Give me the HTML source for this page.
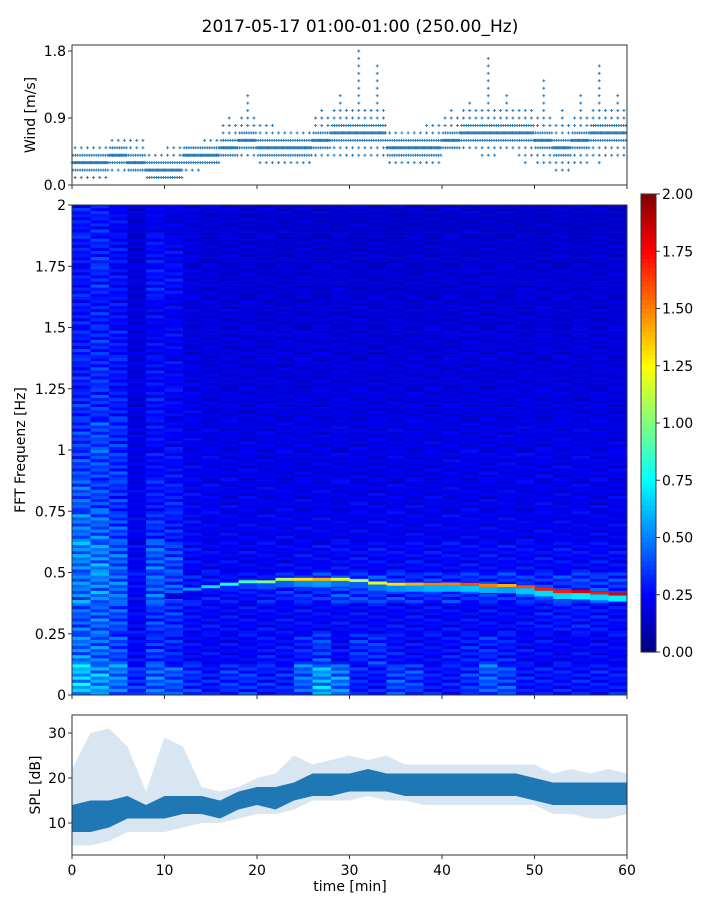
<!DOCTYPE html>
<html><head><meta charset="utf-8"><style>
html,body{margin:0;padding:0;background:#fff;}
svg{display:block;font-family:"DejaVu Sans","Liberation Sans",sans-serif;}
</style></head><body>
<svg id="fig" width="720" height="900" viewBox="0 0 720 900" xmlns="http://www.w3.org/2000/svg">
<text x="360" y="32" font-size="17" text-anchor="middle">2017-05-17 01:00-01:00 (250.00_Hz)</text>
<g id="wind"></g>
<g id="spec"></g>
<g id="cbar"></g>
<g id="spl"></g>
</svg>
<script>
// ---------- data ----------
const windMinutes = [0,2,4,6,8,10,12,14,16,18,20,22,24,26,28,30,32,34,36,38,40,42,44,46,48,50,52,54,56,58];
const windLo  = [0.1,0.1,0.2,0.2,0.1,0.1,0.2,0.3,0.4,0.4,0.3,0.3,0.3,0.4,0.4,0.4,0.4,0.3,0.3,0.3,0.5,0.5,0.4,0.5,0.3,0.3,0.2,0.3,0.3,0.4];
const windMid = [0.3,0.3,0.4,0.3,0.2,0.2,0.4,0.4,0.5,0.6,0.5,0.5,0.5,0.6,0.7,0.7,0.7,0.5,0.5,0.5,0.6,0.7,0.7,0.7,0.7,0.6,0.5,0.6,0.7,0.7];
const windHi  = [0.5,0.5,0.6,0.6,0.4,0.5,0.5,0.6,0.9,1.2,0.8,0.7,0.7,1.0,1.2,1.8,1.6,0.7,0.7,0.8,1.0,1.1,1.7,1.2,1.0,1.4,1.0,1.2,1.6,1.2];

const specTimes = [0,2,4,6,8,10,12,14,16,18,20,22,24,26,28,30,32,34,36,38,40,42,44,46,48,50,52,54,56,58];
const specFreqs = [1.875,1.75,1.625,1.5,1.375,1.25,1.125,1.0,0.875,0.75,0.625,0.5,0.375,0.25,0.125,0.0];
const specVals = [
[28,30,24,17,22,20,18,17,17,16,16,16,16,15,15,16,15,15,15,15,15,16,15,15,15,15,15,15,15,15],
[28,32,26,17,26,24,18,17,17,17,16,16,16,16,16,16,16,16,16,16,16,16,16,16,16,16,16,16,16,16],
[28,32,26,18,28,26,19,18,17,17,17,17,17,17,17,16,16,16,16,16,17,17,17,17,17,17,17,17,17,17],
[28,30,26,18,24,22,19,18,18,18,17,17,17,17,17,17,17,17,17,17,17,17,17,17,17,17,17,17,17,17],
[30,32,28,18,24,24,19,18,18,18,18,18,18,18,18,17,17,17,17,17,18,18,18,18,18,18,18,18,18,18],
[30,33,28,19,26,24,20,19,18,18,18,18,18,18,18,18,18,18,18,18,18,18,18,18,18,18,18,18,18,18],
[32,34,30,19,27,24,21,19,19,19,19,19,19,19,19,19,19,19,19,19,19,19,19,19,19,19,19,19,19,19],
[35,38,33,20,26,24,21,20,20,20,20,20,20,20,20,20,20,20,20,20,20,20,20,20,20,20,20,20,20,20],
[37,38,34,20,26,26,22,21,21,21,20,20,20,20,20,20,20,20,20,20,21,21,21,21,21,21,21,21,21,21],
[42,38,34,21,29,29,23,22,21,21,21,21,21,21,21,21,21,21,21,21,21,21,21,21,21,21,21,21,21,21],
[46,44,38,22,34,30,24,22,22,22,22,22,22,22,22,22,22,22,22,22,22,22,22,22,22,22,22,22,22,22],
[50,50,42,23,42,38,25,24,23,23,23,23,24,24,25,25,25,25,25,25,25,25,25,25,25,25,25,25,25,25],
[48,50,44,25,42,38,28,27,27,27,28,30,32,34,36,36,36,34,33,33,33,33,33,33,33,33,34,36,36,34],
[42,44,39,24,35,33,26,25,25,25,25,25,25,25,25,25,25,25,25,25,25,25,25,25,25,27,28,28,27,25],
[48,44,39,24,35,30,25,24,24,24,27,25,30,36,25,32,34,27,25,25,27,29,32,29,25,25,24,24,24,24],
[62,54,48,32,44,40,33,28,33,33,30,30,44,56,48,30,28,38,36,28,28,33,42,38,28,28,28,28,28,28]
];
const peakFreq = [0.42,0.43,0.44,0.45,0.46,0.46,0.47,0.47,0.47,0.47,0.465,0.455,0.45,0.45,0.45,0.45,0.45,0.445,0.445,0.44,0.43,0.42,0.42,0.415,0.41];
const peakAmp  = [0.45,0.55,0.7,0.8,0.9,1.0,1.1,1.3,1.4,1.2,1.1,1.2,1.3,1.4,1.5,1.5,1.6,1.5,1.4,1.6,1.7,1.7,1.8,1.7,1.8];
const peakStart = 10;

const splMinutes = [0,2,4,6,8,10,12,14,16,18,20,22,24,26,28,30,32,34,36,38,40,42,44,46,48,50,52,54,56,58,60];
const splOuterLo = [5,5,6,8,8,8,9,10,10,11,12,12,13,15,15,15,16,15,15,14,14,14,14,14,14,14,12,12,11,11,12];
const splOuterHi = [22,30,31,27,17,29,27,18,17,18,20,21,25,23,24,25,24,25,23,23,23,23,23,23,23,23,21,22,21,22,21];
const splCoreLo  = [8,8,9,11,11,11,12,12,11,13,14,13,15,16,16,17,17,17,16,16,16,16,16,16,16,15,14,14,14,14,14];
const splCoreHi  = [14,15,15,16,14,16,16,16,15,17,18,18,19,21,21,21,22,21,21,21,21,21,21,21,21,20,19,19,19,19,19];

const tickX = [0,10,20,30,40,50,60];
const windTicks = [0.0,0.9,1.8];
const specTicks = [0,0.25,0.5,0.75,1,1.25,1.5,1.75,2];
const specTickLabels = ["0","0.25","0.5","0.75","1","1.25","1.5","1.75","2"];
const cbarTicks = [0,0.25,0.5,0.75,1,1.25,1.5,1.75,2];
const splTicks = [10,20,30];

// ---------- helpers ----------
const NS="http://www.w3.org/2000/svg";
function mk(parent,tag,attrs){const e=document.createElementNS(NS,tag);for(const k in attrs)e.setAttribute(k,attrs[k]);parent.appendChild(e);return e;}
const X0=72,X1=627;
const xS=m=>X0+(X1-X0)*m/60;
const wy=v=>185-v*(134/1.8);
const sy=f=>695-f*245;
const py=d=>868-d*4.5;
function jet(v){let t=Math.max(0,Math.min(1,v/2));
 const c=x=>Math.round(255*Math.max(0,Math.min(1,x)));
 return `rgb(${c(1.5-Math.abs(4*t-3))},${c(1.5-Math.abs(4*t-2))},${c(1.5-Math.abs(4*t-1))})`;}

// ---------- wind ----------
const wg=document.getElementById('wind');
function plus(x,y){
  const p=mk(wg,'path',{d:`M${x-1.5},${y}h3M${x},${y-1.5}v3`,stroke:'#1f77b4','stroke-width':0.9});
  
  
}
for(let i=0;i<windMinutes.length;i++){
  const m0=windMinutes[i];
  for(let k=0;k<16;k++){
    plus(xS(m0+k*0.125),wy(Math.round(windMid[i]*10)/10));
  }
  for(let l=Math.round(windLo[i]*10);l<=Math.round(windHi[i]*10);l++){
    const dist=Math.abs(l/10-windMid[i]);
    const n=dist<0.15?8:dist<0.35?3:1;
    for(let k=0;k<n;k++){
      plus(xS(m0+(k+0.5)*2/n),wy(l/10));
    }
  }
}
mk(wg,'rect',{x:X0,y:45,width:X1-X0,height:140,fill:'none',stroke:'#333','stroke-width':1});
windTicks.forEach(v=>{mk(wg,'line',{x1:X0-4,x2:X0,y1:wy(v),y2:wy(v),stroke:'#333'});
 const t=mk(wg,'text',{x:X0-6,y:wy(v)+5,'font-size':14,'text-anchor':'end'});t.textContent=v.toFixed(1);
 });
tickX.forEach(m=>mk(wg,'line',{x1:xS(m),x2:xS(m),y1:185,y2:189,stroke:'#333'}));
{const t=mk(wg,'text',{x:0,y:0,'font-size':14,'text-anchor':'middle',transform:'translate(35,115) rotate(-90)'});t.textContent='Wind [m/s]';
}

// ---------- spectrogram ----------
const sg=document.getElementById('spec');
for(let r=0;r<specFreqs.length;r++){
  for(let c=0;c<specTimes.length;c++){
    const v=specVals[r][c]/100;
    const y0=sy(specFreqs[r]+0.125), h=sy(specFreqs[r])-y0;
    for(let s=0;s<10;s++){
      const f=[0.7,1.3,0.9,1.1,0.75,1.2,0.95,1.05,0.8,1.15][(s+c*3+r)%10];
      const st=mk(sg,'rect',{x:xS(specTimes[c]),y:y0+s*h/10,width:xS(2)-xS(0)+0.5,height:h/10+0.3,fill:jet(v*f)});
      
      
    }
  }
}
for(let i=0;i<peakFreq.length;i++){
  const m=peakStart+i*2;
  const q=mk(sg,'rect',{x:xS(m),y:sy(peakFreq[i])+1,width:xS(2)-xS(0)+0.5,height:6,fill:jet(peakAmp[i]*0.4)});
  
  
  const p=mk(sg,'rect',{x:xS(m),y:sy(peakFreq[i])-2,width:xS(2)-xS(0)+0.5,height:3,fill:jet(peakAmp[i])});
  
  
}
mk(sg,'rect',{x:X0,y:205,width:X1-X0,height:490,fill:'none',stroke:'#333'});
specTicks.forEach((f,i)=>{mk(sg,'line',{x1:X0-4,x2:X0,y1:sy(f),y2:sy(f),stroke:'#333'});
 const t=mk(sg,'text',{x:X0-6,y:sy(f)+5,'font-size':14,'text-anchor':'end'});t.textContent=specTickLabels[i];
 });
tickX.forEach(m=>mk(sg,'line',{x1:xS(m),x2:xS(m),y1:695,y2:699,stroke:'#333'}));
{const t=mk(sg,'text',{x:0,y:0,'font-size':14,'text-anchor':'middle',transform:'translate(25,450) rotate(-90)'});t.textContent='FFT Frequenz [Hz]';
}

// ---------- colorbar ----------
const cg=document.getElementById('cbar');
const CB0=652,CB1=194;
for(let i=0;i<100;i++){const v=i/50;
 mk(cg,'rect',{x:641,y:CB0-(i+1)*(CB0-CB1)/100,width:15,height:(CB0-CB1)/100+0.6,fill:jet(v+0.01)});}
mk(cg,'rect',{x:641,y:CB1,width:15,height:CB0-CB1,fill:'none',stroke:'#333'});
cbarTicks.forEach(v=>{const y=CB0-v/2*(CB0-CB1);mk(cg,'line',{x1:656,x2:660,y1:y,y2:y,stroke:'#333'});
 const t=mk(cg,'text',{x:662,y:y+5,'font-size':14});t.textContent=v.toFixed(2);
 });

// ---------- SPL ----------
const pg=document.getElementById('spl');
function band(lo,hi,op,name){let d='';
 splMinutes.forEach((m,i)=>d+=(i?'L':'M')+xS(m)+','+py(hi[i]));
 for(let i=splMinutes.length-1;i>=0;i--)d+='L'+xS(splMinutes[i])+','+py(lo[i]);
 const p=mk(pg,'path',{d:d+'Z',fill:'#1f77b4','fill-opacity':op});
 }
band(splOuterLo,splOuterHi,0.18,'spl-outer-band');
band(splCoreLo,splCoreHi,1,'spl-core-band');
mk(pg,'rect',{x:X0,y:715,width:X1-X0,height:140,fill:'none',stroke:'#333'});
splTicks.forEach(v=>{mk(pg,'line',{x1:X0-4,x2:X0,y1:py(v),y2:py(v),stroke:'#333'});
 const t=mk(pg,'text',{x:X0-6,y:py(v)+5,'font-size':14,'text-anchor':'end'});t.textContent=v;
 });
tickX.forEach(m=>{mk(pg,'line',{x1:xS(m),x2:xS(m),y1:855,y2:859,stroke:'#333'});
 const t=mk(pg,'text',{x:xS(m),y:875,'font-size':14,'text-anchor':'middle'});t.textContent=m;
 });
{const t=mk(pg,'text',{x:0,y:0,'font-size':14,'text-anchor':'middle',transform:'translate(40,785) rotate(-90)'});t.textContent='SPL [dB]';
}
{const t=mk(pg,'text',{x:350,y:891,'font-size':14,'text-anchor':'middle'});t.textContent='time [min]';
}
</script>
</body></html>
